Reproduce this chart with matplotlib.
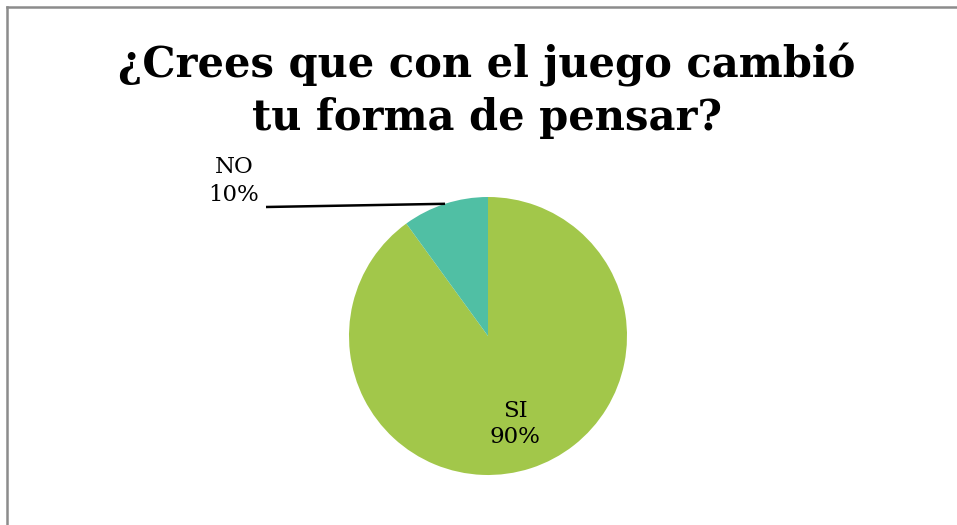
import matplotlib
matplotlib.use("Agg")
import matplotlib.pyplot as plt
import numpy as np

title = "¿Crees que con el juego cambió\ntu forma de pensar?"
categories = ["SI", "NO"]
values = [90, 10]
colors = ["#A2C74A", "#50BFA4"]

W, H = 957, 525
fig = plt.figure(figsize=(W / 100, H / 100), dpi=100)
ax = fig.add_axes([0, 0, 1, 1])

cx, cy, r = 488, H - 336, 139
wedges, _ = ax.pie(values, colors=colors, startangle=90, counterclock=False,
                   center=(cx, cy), radius=r, frame=True,
                   wedgeprops=dict(linewidth=0))
ax.set_xlim(0, W)
ax.set_ylim(0, H)
ax.set_aspect("equal")
ax.axis("off")

serif = ["DejaVu Serif"]
total = sum(values)
pct = [f"{v / total * 100:.0f}%" for v in values]

# SI label inside
ax.text(515, H - 424, f"{categories[0]}\n{pct[0]}", ha="center", va="center",
        fontsize=16.5, family=serif, linespacing=1.2)

# NO label outside with leader line
w = wedges[1]
mid = np.deg2rad((w.theta1 + w.theta2) / 2)
ex, ey = cx + r * np.cos(mid), cy + r * np.sin(mid)
ax.plot([ex, 266], [ey, H - 207], color="black", lw=1.8, solid_capstyle="butt")
ax.text(234, H - 181, f"{categories[1]}\n{pct[1]}", ha="center", va="center",
        fontsize=16.5, family=serif, linespacing=1.35)

fig.text(487 / W, 1 - 91 / H, title, ha="center", va="center", fontsize=30,
         fontweight="bold", family=serif, linespacing=1.3)

# frame lines (top and left)
fig.add_artist(plt.Line2D([7 / W, 1], [1 - 7 / H, 1 - 7 / H], color="#8C8C8C", lw=1.8,
                          transform=fig.transFigure))
fig.add_artist(plt.Line2D([7 / W, 7 / W], [0, 1 - 7 / H], color="#8C8C8C", lw=1.8,
                          transform=fig.transFigure))

fig.savefig("out.png", dpi=100, facecolor="white")
